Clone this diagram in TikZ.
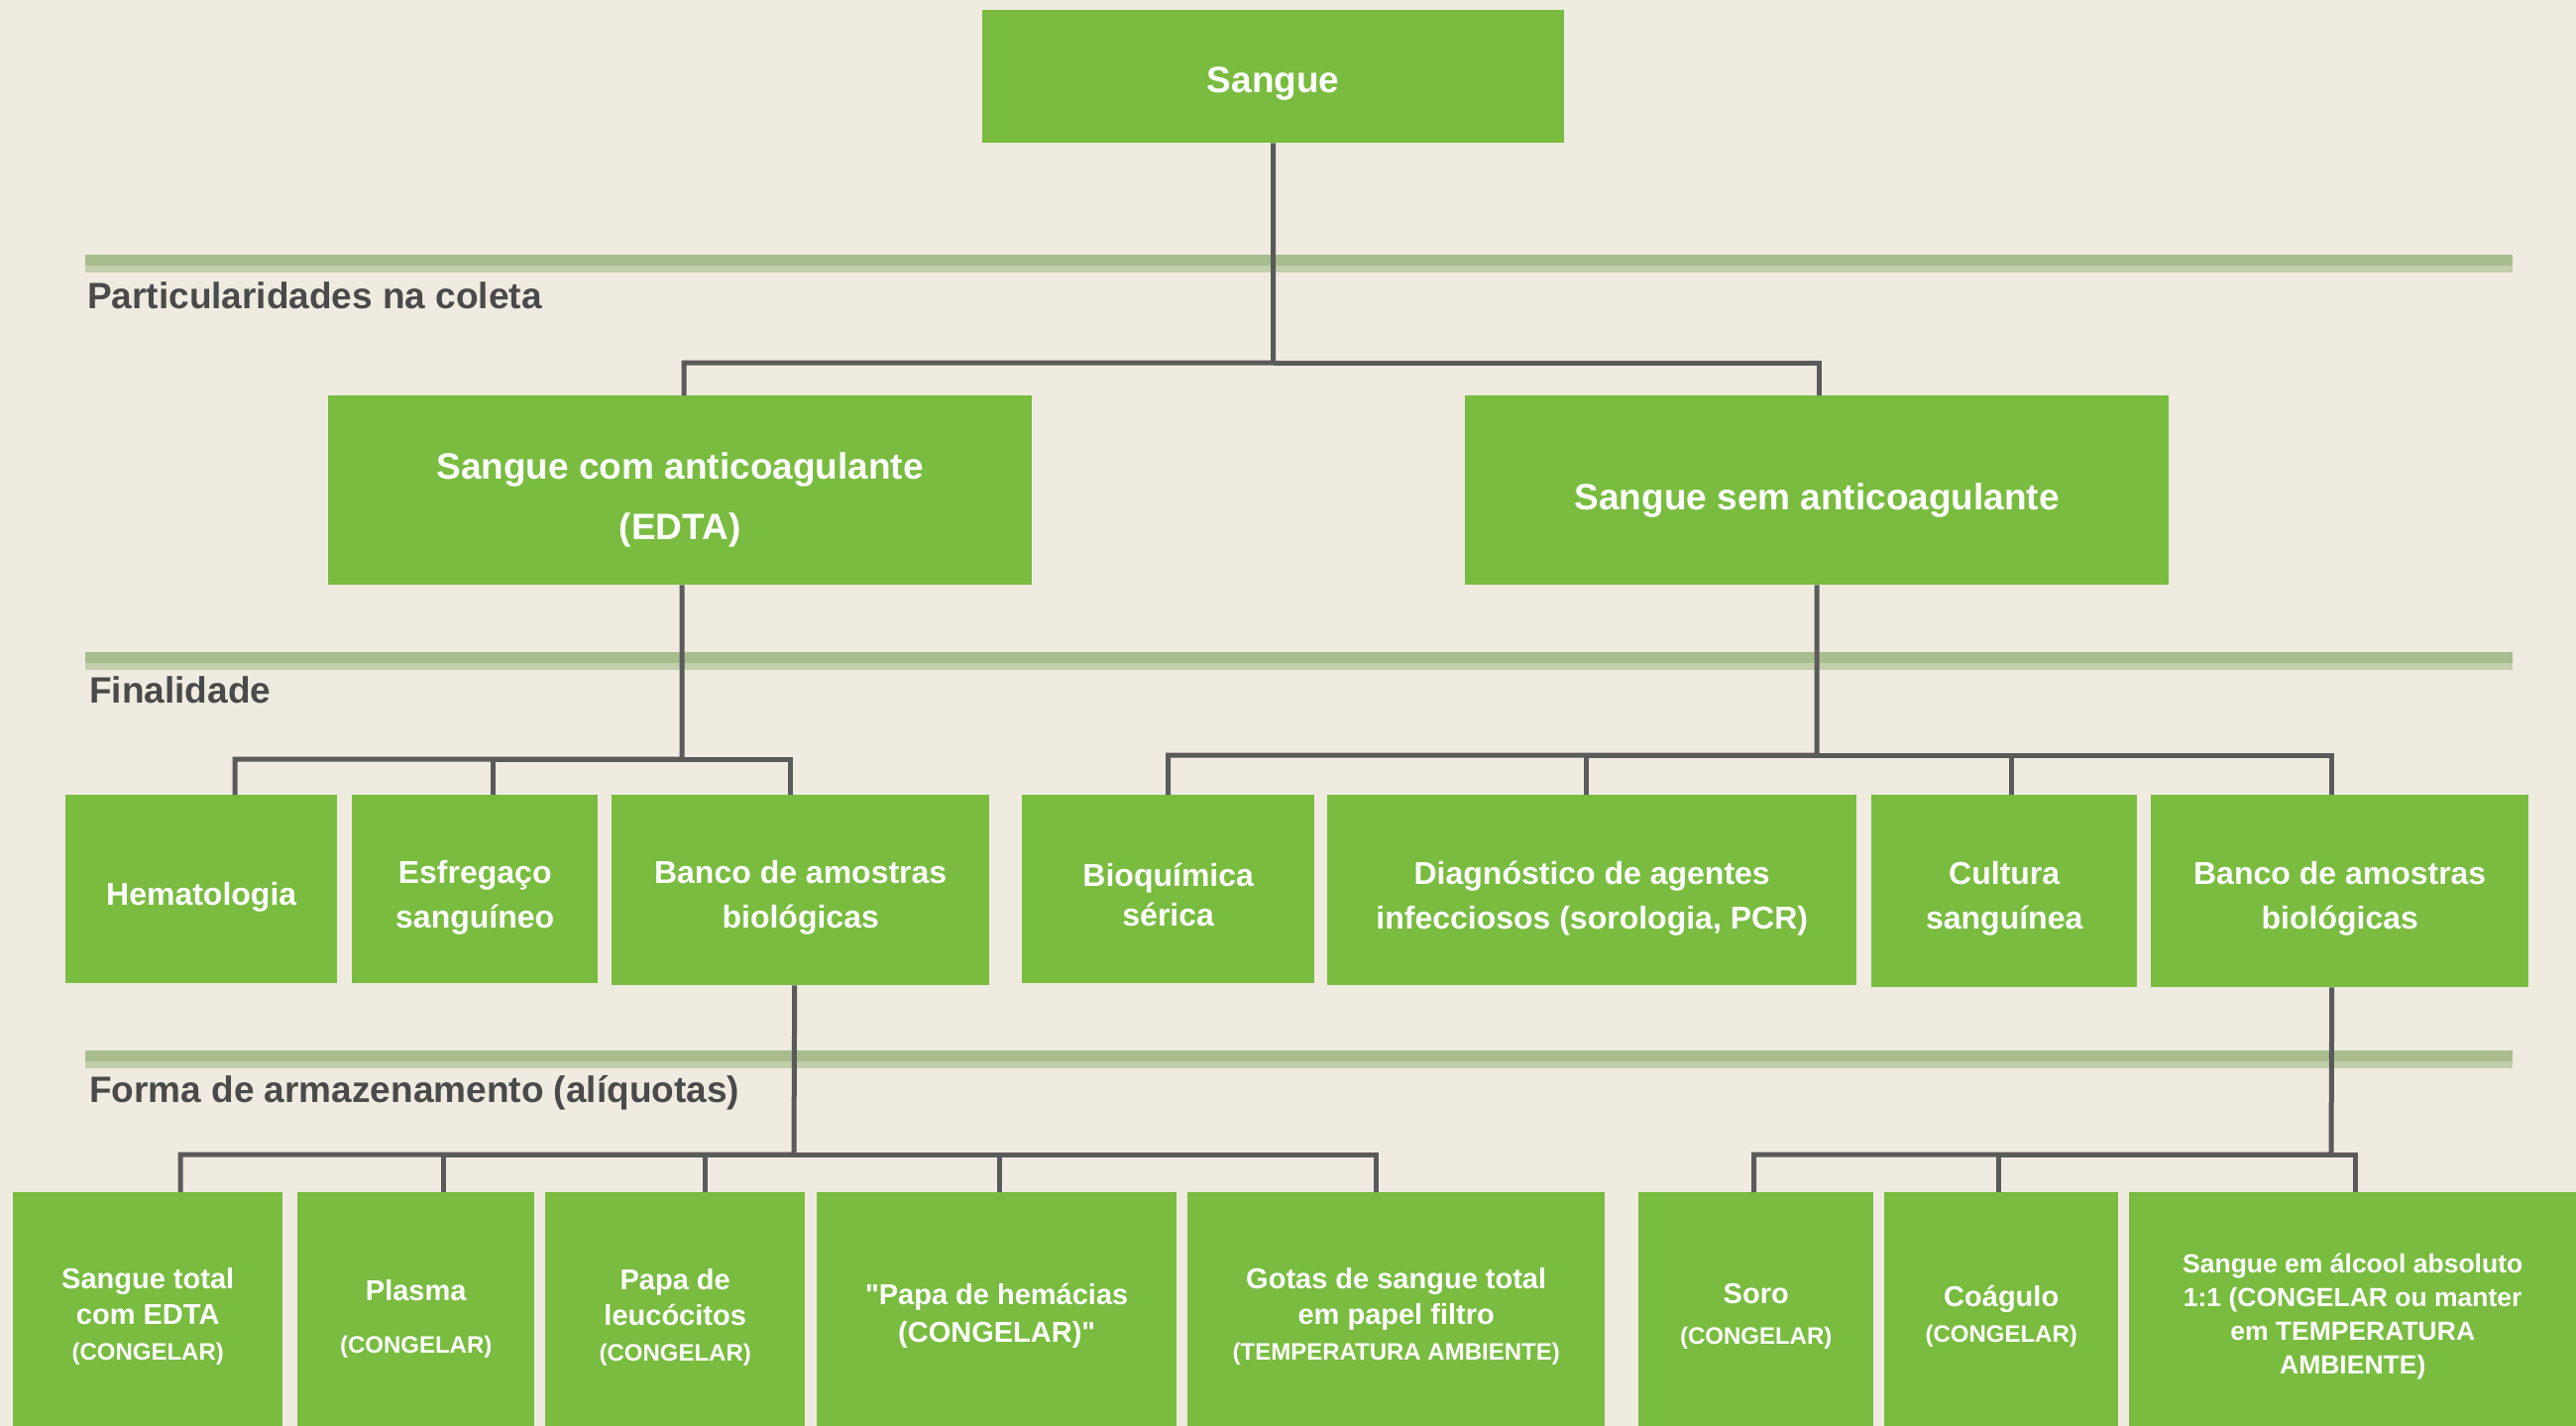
\documentclass[tikz,border=0pt]{standalone}
\usepackage{fontspec}
\setmainfont{Liberation Sans}
\newfontfamily\qfont{Liberation Sans}
\usetikzlibrary{calc}
\definecolor{bgc}{HTML}{EFEBE0}
\definecolor{boxg}{HTML}{79BC40}
\definecolor{linec}{HTML}{5A5A5A}
\definecolor{texg}{HTML}{A7BD8D}
\definecolor{texl}{HTML}{C2CEAC}
\definecolor{labc}{HTML}{4A4A4A}
\tikzset{
  box/.style={fill=boxg, inner sep=0pt, anchor=north west},
  boxtxt/.style={text=white, inner sep=0pt, align=center},
  fA/.style={font=\bfseries\fontsize{37}{61}\selectfont},
  fB/.style={font=\bfseries\fontsize{32}{45}\selectfont},
  fC/.style={font=\bfseries\fontsize{29}{36}\selectfont},
  fD/.style={font=\bfseries\fontsize{26.5}{34}\selectfont},
  conn/.style={draw=linec, line width=5pt},
  seclabel/.style={text=labc, font=\bfseries\fontsize{37}{44}\selectfont, anchor=base west, inner sep=0pt},
}
\newcommand{\smallcap}[1]{{\fontsize{24}{36}\selectfont #1}}
\newcommand{\qq}{{\qfont\bfseries "}}
% #1 name, #2 font style, #3 x, #4 y, #5 w, #6 h, #7 text shift down, #8 text
\newcommand{\gbox}[8]{%
  \node[box,minimum width=#5,minimum height=#6] (#1) at (#3,#4) {};
  \node[boxtxt,#2] (#1-t) at ([yshift=-#7]#1.center) {#8};
}
\begin{document}
\begin{tikzpicture}[x=1pt,y=-1pt]
\fill[bgc] (0,0) rectangle (2599,1439);
\useasboundingbox (0,0) rectangle (2599,1439);
\begin{scope}
\clip (0,0) rectangle (2599,1439);
% textured separator lines
\foreach \yy in {257,658,1060}{
  \fill[texg] (86,\yy) rectangle (2535,\yy+11);
  \fill[texl] (86,\yy+11) rectangle (2535,\yy+18);
}
% section labels
\node[seclabel] (lab1) at (88,312) {Particularidades na coleta};
\node[seclabel] (lab2) at (90,709) {Finalidade};
\node[seclabel] (lab3) at (90,1112) {Forma de armazenamento (alíquotas)};

% level 0
\gbox{sangue}{fA}{991}{10}{587}{134}{7}{Sangue}
% level 1
\gbox{edta}{fA}{331}{399}{710}{191}{10}{Sangue com anticoagulante\\(EDTA)}
\gbox{sem}{fA}{1478}{399}{710}{191}{10}{Sangue sem anticoagulante}
% level 2
\gbox{hema}{fB}{66}{802}{274}{190}{8}{Hematologia}
\gbox{esfr}{fB}{355}{802}{248}{190}{9}{Esfregaço\\sanguíneo}
\gbox{bancoL}{fB}{617}{802}{381}{192}{8}{Banco de amostras\\biológicas}
\gbox{bioq}{fB}{1031}{802}{295}{190}{6}{Bioquímica\\[-5pt]sérica}
\gbox{diag}{fB}{1339}{802}{534}{192}{8}{Diagnóstico de agentes\\infecciosos (sorologia, PCR)}
\gbox{cult}{fB}{1888}{802}{268}{194}{8}{Cultura\\sanguínea}
\gbox{bancoR}{fB}{2170}{802}{381}{194}{8}{Banco de amostras\\biológicas}
% level 3
\gbox{stot}{fC}{13}{1203}{272}{250}{0}{Sangue total\\com EDTA\\\smallcap{(CONGELAR)}}
\gbox{plas}{fC}{300}{1203}{239}{250}{3}{Plasma\\[17pt]\smallcap{(CONGELAR)}}
\gbox{pleu}{fC}{550}{1203}{262}{250}{1}{Papa de\\leucócitos\\\smallcap{(CONGELAR)}}
\gbox{phem}{fC}{824}{1203}{363}{250}{0}{\qq Papa de hemácias\\[2pt](CONGELAR)\qq}
\gbox{gotas}{fC}{1198}{1203}{421}{250}{0}{Gotas de sangue total\\em papel filtro\\\smallcap{(TEMPERATURA AMBIENTE)}}
\gbox{soro}{fC}{1653}{1203}{237}{250}{0}{Soro\\[5pt]\smallcap{(CONGELAR)}}
\gbox{coag}{fC}{1901}{1203}{236}{250}{0}{Coágulo\\\smallcap{(CONGELAR)}}
\gbox{alc}{fD}{2148}{1203}{451}{250}{0}{Sangue em álcool absoluto\\1:1 (CONGELAR ou manter\\em TEMPERATURA\\AMBIENTE)}

% connectors level 0 -> 1
\coordinate (bus0) at (1284.5,366);
\draw[conn] (sangue.south) -- (bus0) -| ([xshift=4]edta.north);
\draw[conn] (bus0) -| ([xshift=2]sem.north);
% level 1 -> 2 (left)
\coordinate (bus1) at (688,766);
\draw[conn] ([xshift=2]edta.south) -- (bus1) -| ([xshift=34]hema.north);
\draw[conn] (bus1) -| ([xshift=18]esfr.north);
\draw[conn] (bus1) -| ([xshift=-10]bancoL.north);
% level 1 -> 2 (right)
\coordinate (bus2) at (1833,762);
\draw[conn] (sem.south) -- (bus2) -| (bioq.north);
\draw[conn] (bus2) -| ([xshift=-6]diag.north);
\draw[conn] (bus2) -| ([xshift=7]cult.north);
\draw[conn] (bus2) -| ([xshift=-8]bancoR.north);
% level 2 -> 3 (left)
\coordinate (bus3) at (801,1165);
\draw[conn] ([xshift=-6]bancoL.south) -- (bus3) -| ([xshift=33]stot.north);
\draw[conn] (bus3) -| ([xshift=28]plas.north);
\draw[conn] (bus3) -| ([xshift=30]pleu.north);
\draw[conn] (bus3) -| ([xshift=3]phem.north);
\draw[conn] (bus3) -| ([xshift=-20]gotas.north);
% level 2 -> 3 (right)
\coordinate (bus4) at (2352,1165);
\draw[conn] ([xshift=-8]bancoR.south) -- (bus4) -| ([xshift=-2]soro.north);
\draw[conn] (bus4) -| ([xshift=-3]coag.north);
\draw[conn] (bus4) -| ([xshift=3]alc.north);
\end{scope}
\end{tikzpicture}
\end{document}
